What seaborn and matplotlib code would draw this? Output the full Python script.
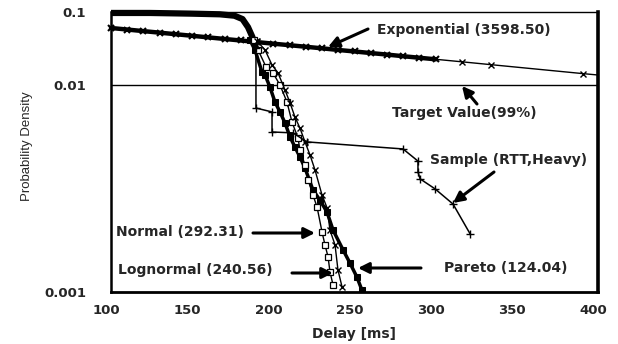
import numpy as np
import matplotlib
matplotlib.use("Agg")
import matplotlib.pyplot as plt
import seaborn as sns
from matplotlib.transforms import ScaledTranslation

sns.set_theme(style="white")
plt.rcParams['font.family'] = ['DejaVu Sans']

# ---------------- data ----------------
# shared head of the empirical / fitted curves (dense band near the top)
band_delay = [100, 124, 149, 167, 176, 181, 184.4, 187, 189.3]
band_prob = [0.097, 0.097, 0.095, 0.093, 0.089, 0.080, 0.062, 0.046, 0.0321]

# Exponential fit
exp_dense_delay = [100, 110, 120, 130, 140, 150, 160, 170, 180, 190, 200,
                   210, 220, 230, 240, 250, 260, 270, 280, 290, 300]
exp_dense_prob = [0.0604, 0.0575, 0.0547, 0.0521, 0.0496, 0.0472, 0.0449,
                  0.0427, 0.0407, 0.0387, 0.0368, 0.0351, 0.0334, 0.0318,
                  0.0302, 0.0288, 0.0274, 0.0261, 0.0248, 0.0236, 0.0225]
exp_tail_delay = [300, 316, 334, 391, 400]
exp_tail_prob = [0.0225, 0.0208, 0.0190, 0.0143, 0.0137]

# Pareto fit (filled squares)
pareto_delay = [185.6, 188.7, 193.0, 194.9, 197.9, 201.0, 204.1, 207.2, 210.3,
                213.3, 216.4, 219.5, 224.4, 228.7, 233.1, 236.8, 242.9, 247.2,
                251.5, 254.6]
pareto_prob = [0.0413, 0.0302, 0.0151, 0.0137, 0.00978, 0.00828, 0.00741,
               0.00655, 0.00561, 0.00502, 0.00449, 0.00397, 0.00311, 0.00278,
               0.00243, 0.00199, 0.00160, 0.00138, 0.00118, 0.00102]

# Normal fit (open squares)
normal_delay = [188.0, 190.6, 195.5, 199.8, 204.1, 208.4, 211.5, 215.2, 216.4,
                219.5, 221.4, 224.4, 226.9, 230.0, 231.8, 233.7, 234.9, 236.8]
normal_prob = [0.042, 0.0302, 0.0177, 0.0146, 0.0100, 0.00828, 0.00662,
               0.00555, 0.00485, 0.00411, 0.00348, 0.00294, 0.00258, 0.00195,
               0.00169, 0.00148, 0.00125, 0.00108]

# Lognormal fit (x markers)
lognormal_delay = [190.0, 194.9, 199.2, 202.9, 207.2, 210.3, 213.3, 216.4,
                   219.5, 222.6, 225.7, 230.0, 233.1, 234.9, 238.0, 239.8, 242.3]
lognormal_prob = [0.040, 0.0302, 0.0188, 0.0146, 0.00946, 0.00819, 0.00701,
                  0.00619, 0.00531, 0.00459, 0.00388, 0.00294, 0.00255,
                  0.00199, 0.00169, 0.00128, 0.00106]

# Sample (RTT, Heavy)
sample_delay = [189.3, 189.3, 199.2, 199.2, 212.1, 220.7, 279.9, 289.1, 289.1,
                290.4, 299.6, 310.7, 321.2]
sample_prob = [0.0321, 0.00774, 0.00741, 0.00593, 0.00587, 0.00531, 0.00491,
               0.00429, 0.00380, 0.00352, 0.00315, 0.00266, 0.00191]

target_value = 0.01

x_ticks = [100, 150, 200, 250, 300, 350, 400]
y_ticks = [0.001, 0.01, 0.1]
y_tick_labels = ["0.001", "0.01", "0.1"]

# ---------------- axis scale (non-uniform decades as in the reference) ----
A = 207.0 / 280.0


def fwd(y):
    l = np.log10(np.clip(np.asarray(y, dtype=float), 1e-300, None))
    return np.where(l < -2, (l + 3) * A, A + (l + 2) * (1 - A))


def inv(v):
    v = np.asarray(v, dtype=float)
    l = np.where(v < A, v / A - 3, -2 + (v - A) / (1 - A))
    return 10 ** l


fig = plt.figure(figsize=(6.18, 3.44), dpi=100)
ax = fig.add_axes([111 / 618, 1 - 292 / 344, 487 / 618, 280 / 344])
ax.set_yscale('function', functions=(fwd, inv))

common = dict(ax=ax, sort=False, estimator=None, color='black', legend=False,
              linestyle='-', dashes=False, markeredgecolor='black')

# target line
ax.axhline(target_value, color='black', lw=1.0, zorder=1)

# exponential
sns.lineplot(x=exp_dense_delay, y=exp_dense_prob, lw=3.2, marker='x',
             markersize=5, markeredgewidth=1.5, clip_on=False, **common)
sns.lineplot(x=exp_tail_delay, y=exp_tail_prob, lw=1.0, marker='x',
             markersize=4, markeredgewidth=1.0, markevery=[1, 2, 3], **common)

# dense head band
sns.lineplot(x=band_delay, y=band_prob, lw=4.5, clip_on=False,
             solid_capstyle='butt', **common)

# fits
sns.lineplot(x=pareto_delay, y=pareto_prob, lw=2.5, marker='s',
             markersize=4.2, markerfacecolor='black', **common)
sns.lineplot(x=normal_delay, y=normal_prob, lw=1.0, marker='s',
             markersize=4.2, markerfacecolor='white',
             markeredgewidth=0.9, **common)
sns.lineplot(x=lognormal_delay, y=lognormal_prob, lw=1.0, marker='x',
             markersize=4.5, markeredgewidth=1.0, **common)

# sample
sns.lineplot(x=sample_delay, y=sample_prob, lw=1.1, marker='+',
             markersize=6, markeredgewidth=1.0, **common)

ax.set_xlim(100, 400)
ax.set_ylim(0.001, 0.1)
ax.set_xticks(x_ticks)
ax.set_xticklabels([str(t) for t in x_ticks])
ax.set_yticks(y_ticks)
ax.set_yticklabels(y_tick_labels)
ax.minorticks_off()
ax.tick_params(axis='both', length=0, labelsize=9.5)
ax.tick_params(axis='y', pad=18)
ax.tick_params(axis='x', pad=9)
for lab in ax.get_xticklabels() + ax.get_yticklabels():
    lab.set_fontweight('bold')
off = ScaledTranslation(-5 / 100, 0, fig.dpi_scale_trans)
for lab in ax.get_xticklabels():
    lab.set_transform(lab.get_transform() + off)

for side, w in [('left', 1.8), ('bottom', 2.0), ('right', 2.6), ('top', 1.0)]:
    ax.spines[side].set_visible(True)
    ax.spines[side].set_color('black')
    ax.spines[side].set_linewidth(w)

ax.set_xlabel("Delay [ms]", fontsize=10, fontweight='bold', labelpad=7)
ax.set_ylabel("Probability Density", fontsize=9.5, fontweight='normal',
              family=['Liberation Sans', 'DejaVu Sans'])
ax.yaxis.set_label_coords(-0.16, 0.52)

# annotations (figure pixel coordinates, origin bottom-left)
H = 344


def arrow(tail, tip):
    ax.annotate('', xy=(tip[0], H - tip[1]), xytext=(tail[0], H - tail[1]),
                xycoords='figure pixels', textcoords='figure pixels',
                arrowprops=dict(arrowstyle='-|>', lw=2.2, color='black',
                                mutation_scale=16, shrinkA=0, shrinkB=0))


def label(text, left, yc):
    fig.text(left / 618, (H - yc) / H, text, fontsize=10, fontweight='bold',
             ha='left', va='center')


label("Exponential (3598.50)", 377, 30)
arrow((368, 29), (328, 47))
label("Target Value(99%)", 392, 113)
arrow((477, 104), (462, 86))
label("Sample (RTT,Heavy)", 430, 160)
arrow((494, 172), (453, 203))
label("Normal (292.31)", 116, 232)
arrow((253, 233), (315, 233))
label("Lognormal (240.56)", 118, 270)
arrow((292, 273), (333, 273))
label("Pareto (124.04)", 444, 268)
arrow((421, 268), (358, 268))

fig.savefig("out.png", dpi=100)
